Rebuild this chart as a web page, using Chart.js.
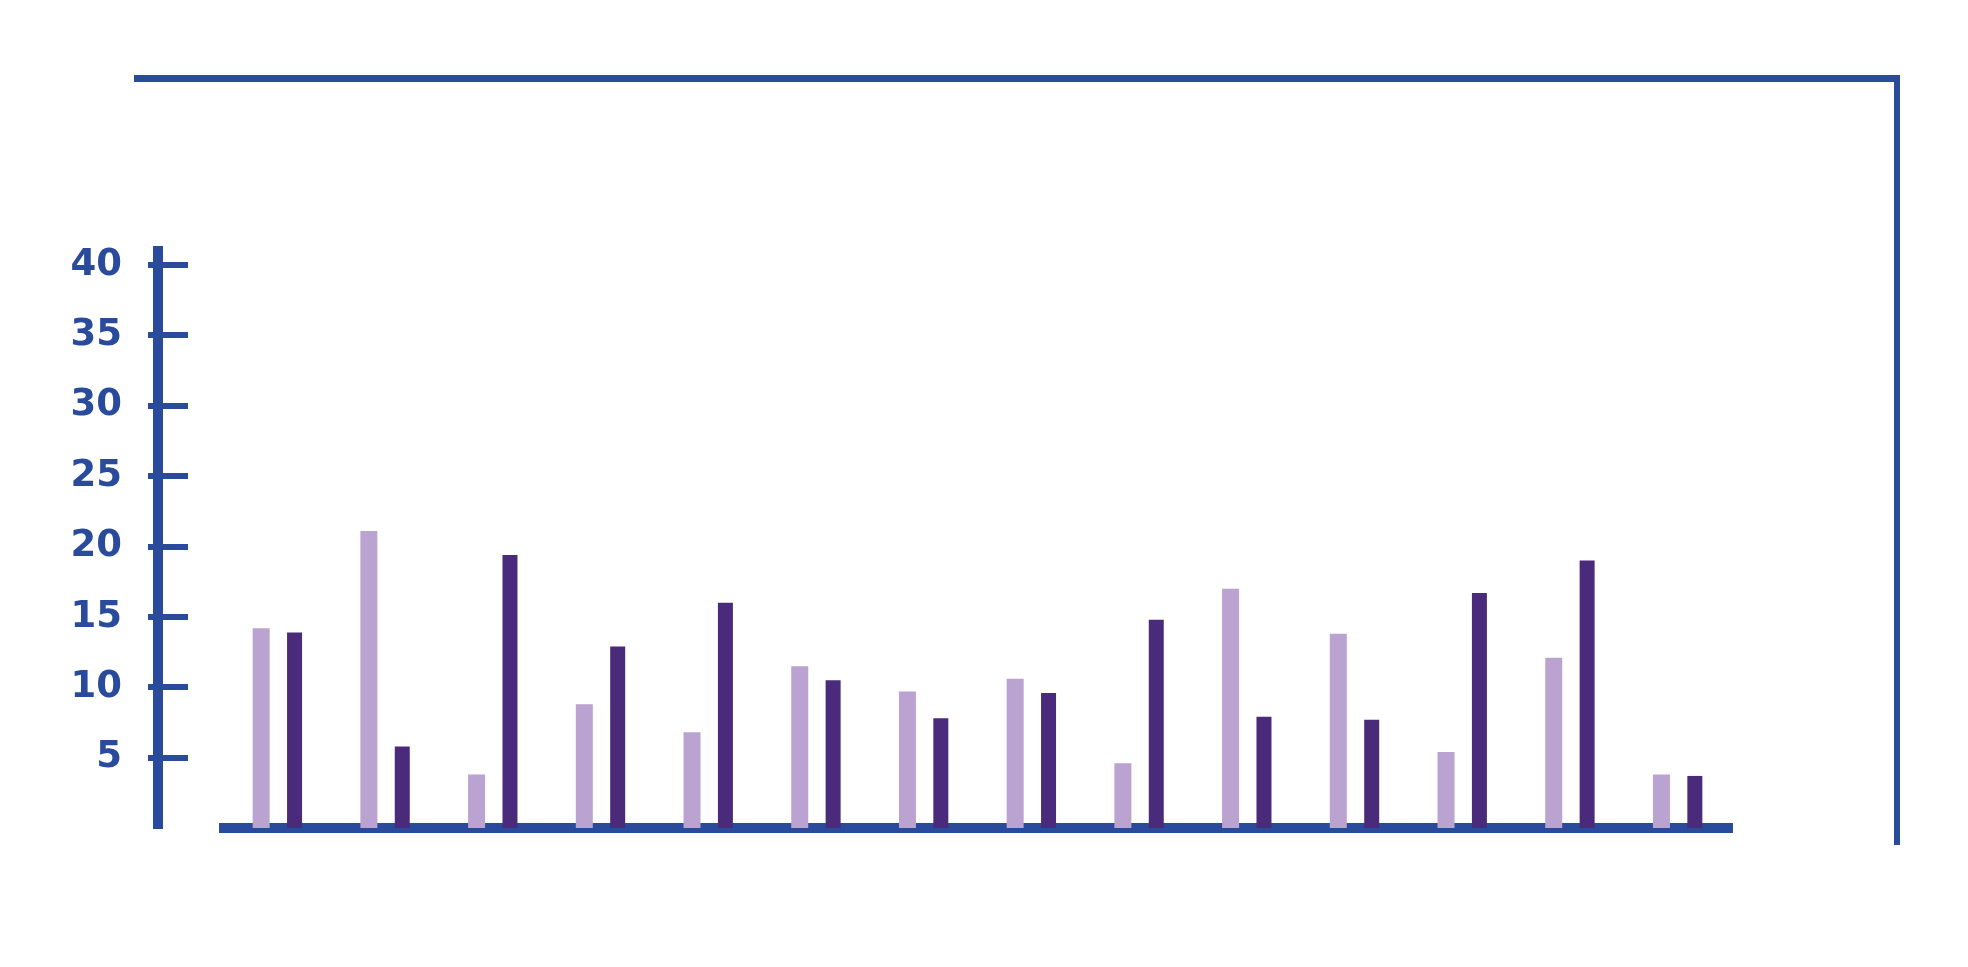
<!DOCTYPE html>
<html>
<head>
<meta charset="utf-8">
<script src="https://cdn.jsdelivr.net/npm/chart.js@4"></script>
<style>
  html, body { margin: 0; padding: 0; background: #ffffff; }
  #wrap { position: relative; width: 1968px; height: 967px; }
  #frame {
    position: absolute; left: 134px; top: 75px; width: 1766px; height: 770px;
    box-sizing: border-box; border-top: 7px solid #2a4b9c; border-right: 6px solid #2a4b9c;
    pointer-events: none;
  }
</style>
</head>
<body>
<div id="wrap">
  <canvas id="chart" width="1968" height="967"></canvas>
  <div id="frame"></div>
</div>
<script>
// data
const categories = ['1', '2', '3', '4', '5', '6', '7', '8', '9', '10', '11', '12', '13', '14'];
const lightValues = [14.2, 21.1, 3.8, 8.8, 6.8, 11.5, 9.7, 10.6, 4.6, 17.0, 13.8, 5.4, 12.1, 3.8];
const darkValues = [13.9, 5.8, 19.4, 12.9, 16.0, 10.5, 7.8, 9.6, 14.8, 7.9, 7.7, 16.7, 19.0, 3.7];
const yTicks = [5, 10, 15, 20, 25, 30, 35, 40];

const blue = '#2a4b9c';

// keep only the labelled ticks
function keepTicks(scale) {
    scale.ticks = yTicks.map(v => ({ value: v }));
}

new Chart(document.getElementById('chart'), {
    type: 'bar',
    data: {
        labels: categories,
        datasets: [{
            label: 'A',
            data: lightValues,
            backgroundColor: '#baa2d1',
            maxBarThickness: 17
        }, {
            label: 'B',
            data: darkValues,
            backgroundColor: '#4a2a7b',
            maxBarThickness: 15
        }]
    },
    options: {
        responsive: false,
        devicePixelRatio: 1,
        animation: false,
        datasets: {
            bar: { categoryPercentage: 0.62, barPercentage: 1 }
        },
        layout: {
            padding: { left: 224, right: 236, top: 251, bottom: 139 }
        },
        plugins: {
            legend: { display: false },
            tooltip: { enabled: false }
        },
        scales: {
            x: {
                grid: { display: false, drawTicks: false },
                ticks: { display: false },
                border: { display: true, color: blue, width: 10 }
            },
            // value axis: only the labels, placed left of the axis line
            y: {
                min: 0,
                max: 41,
                position: { x: -1.447 },
                afterBuildTicks: keepTicks,
                grid: { display: false, drawTicks: false },
                border: { display: false },
                ticks: {
                    color: blue,
                    padding: 0,
                    font: { family: 'DejaVu Sans', size: 37, weight: 'bold' }
                }
            },
            // axis line
            yLine: {
                min: 0,
                max: 41,
                position: { x: -1.113 },
                afterBuildTicks: keepTicks,
                grid: { drawOnChartArea: false, drawTicks: false },
                border: { display: true, color: blue, width: 10 },
                ticks: { display: false }
            },
            // tick marks crossing the axis
            yMarks: {
                min: 0,
                max: 41,
                position: { x: -0.834 },
                afterBuildTicks: keepTicks,
                grid: { drawOnChartArea: false, drawTicks: true, tickLength: 40, lineWidth: 6, color: blue },
                border: { display: false },
                ticks: { display: false }
            }
        }
    }
});
</script>
</body>
</html>
